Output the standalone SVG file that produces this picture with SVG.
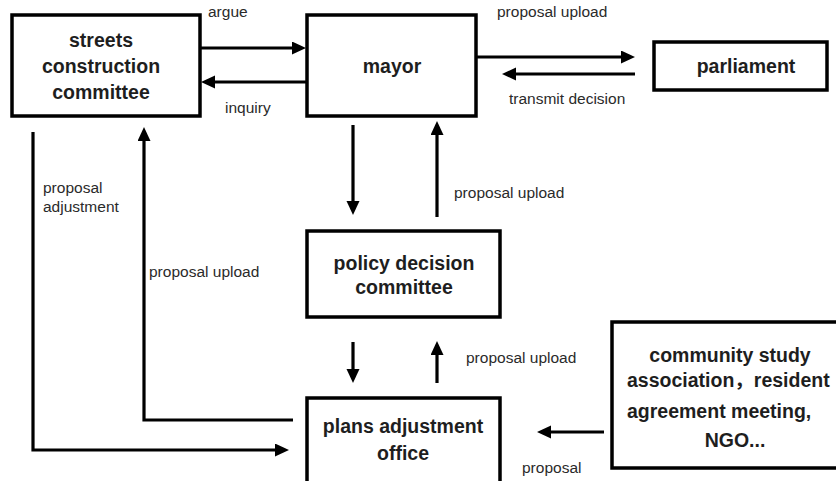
<svg xmlns="http://www.w3.org/2000/svg" width="836" height="481" viewBox="0 0 836 481">
  <style>
    .box { fill: #ffffff; stroke: #000000; stroke-width: 3.5; }
    .node { font-family: "Liberation Sans", "Noto Sans CJK SC", Arial, sans-serif; font-size: 19.5px; font-weight: bold; fill: #1e1e1e; }
    .mid { text-anchor: middle; }
    .lbl { font-family: "Liberation Sans", Arial, sans-serif; font-size: 15.5px; fill: #2a2a2a; }
    .edge { fill: none; stroke: #000000; stroke-width: 3.2; }
  </style>
  <defs>
    <marker id="arr" markerUnits="userSpaceOnUse" markerWidth="16" markerHeight="14" refX="8" refY="6.5" orient="auto">
      <path d="M0,0 L14,6.5 L0,13 z" fill="#000000"/>
    </marker>
  </defs>
  <rect width="836" height="481" fill="#ffffff"/>

  <g id="connectors">
    <path class="edge" d="M200,48 H300" marker-end="url(#arr)"/>
    <path class="edge" d="M307,82 H207" marker-end="url(#arr)"/>
    <path class="edge" d="M476,57 H629" marker-end="url(#arr)"/>
    <path class="edge" d="M635,74 H508" marker-end="url(#arr)"/>
    <path class="edge" d="M353,125 V209" marker-end="url(#arr)"/>
    <path class="edge" d="M437,217 V127" marker-end="url(#arr)"/>
    <path class="edge" d="M353,342 V377" marker-end="url(#arr)"/>
    <path class="edge" d="M437,383 V347" marker-end="url(#arr)"/>
    <path class="edge" d="M604,432 H543" marker-end="url(#arr)"/>
    <path class="edge" d="M33,132 V450 H283" marker-end="url(#arr)"/>
    <path class="edge" d="M293,420 H144 V133" marker-end="url(#arr)"/>
    <text class="lbl" x="208" y="17">argue</text>
    <text class="lbl" x="225" y="113">inquiry</text>
    <text class="lbl" x="497" y="17">proposal upload</text>
    <text class="lbl" x="509" y="104">transmit decision</text>
    <text class="lbl" x="43" y="193">proposal</text>
    <text class="lbl" x="43" y="212">adjustment</text>
    <text class="lbl" x="149" y="277">proposal upload</text>
    <text class="lbl" x="454" y="198">proposal upload</text>
    <text class="lbl" x="466" y="363">proposal upload</text>
    <text class="lbl" x="522" y="473">proposal</text>
  </g>

  <g id="streets">
    <rect class="box" x="12" y="15" width="188" height="101"/>
    <text class="node mid" x="101" y="47">streets</text>
    <text class="node mid" x="101" y="73">construction</text>
    <text class="node mid" x="101" y="99">committee</text>
  </g>

  <g id="mayor">
    <rect class="box" x="307" y="15" width="169" height="101"/>
    <text class="node mid" x="392" y="73">mayor</text>
  </g>

  <g id="parliament">
    <rect class="box" x="654" y="42" width="173" height="48"/>
    <text class="node mid" x="746" y="73">parliament</text>
  </g>

  <g id="policy">
    <rect class="box" x="307" y="231" width="193" height="86"/>
    <text class="node mid" x="404" y="270">policy decision</text>
    <text class="node mid" x="404" y="294">committee</text>
  </g>

  <g id="plans">
    <rect class="box" x="307" y="398" width="193" height="95"/>
    <text class="node mid" x="403" y="433">plans adjustment</text>
    <text class="node mid" x="403" y="460">office</text>
  </g>

  <g id="community">
    <rect class="box" x="612" y="322" width="240" height="146"/>
    <text class="node mid" x="730" y="362">community study</text>
    <text class="node" x="627" y="387">association，resident</text>
    <text class="node" x="627" y="418">agreement meeting,</text>
    <text class="node mid" x="735" y="447">NGO...</text>
  </g>
</svg>
